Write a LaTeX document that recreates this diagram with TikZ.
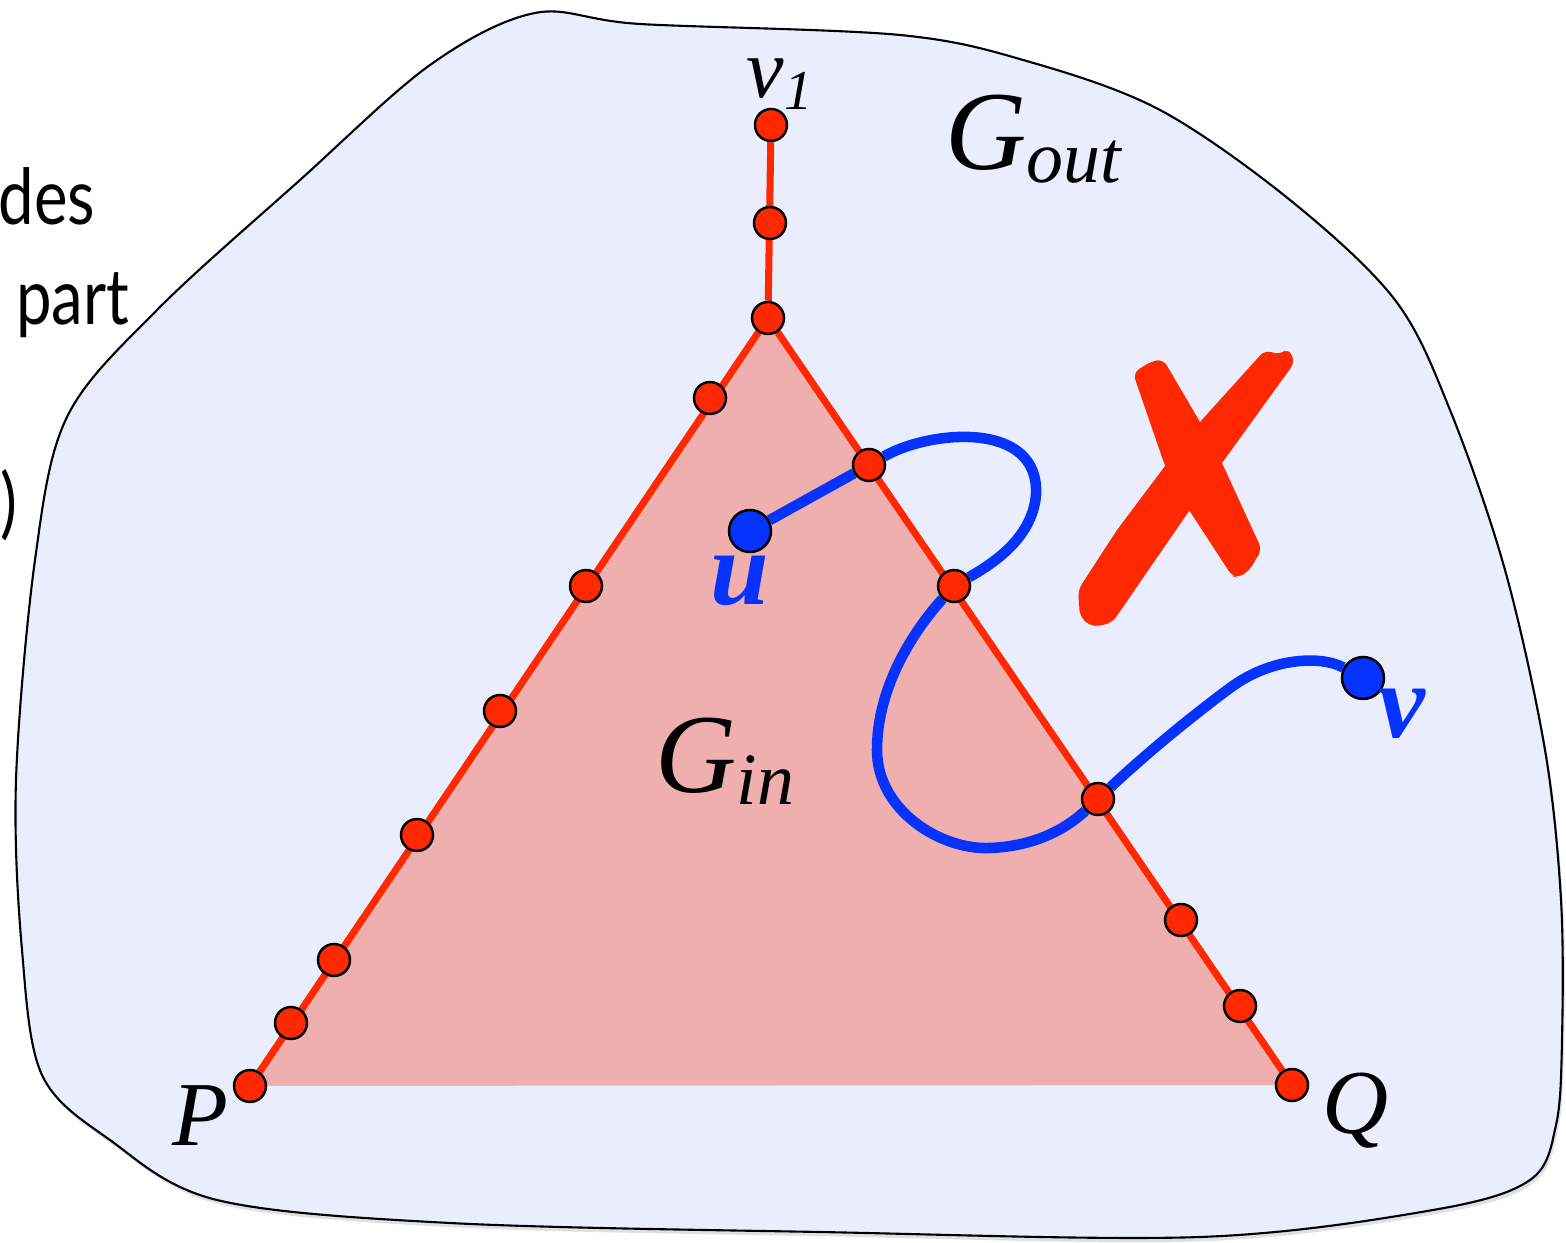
\documentclass[tikz,border=0pt]{standalone}
\usepackage{fontspec}
\setmainfont{Liberation Serif}
\newfontfamily\slidefont[FakeStretch=0.82]{Lato}
\usepackage{tikz}
\usetikzlibrary{backgrounds, shadows}

\definecolor{blobfill}{RGB}{234,237,253}
\definecolor{vred}{RGB}{255,40,0}
\definecolor{ginfill}{RGB}{240,175,175}
\definecolor{pblue}{RGB}{5,50,255}

\begin{document}
\begin{tikzpicture}[
  x=0.01cm, y=-0.01cm,
  rv/.style={circle, draw, line width=0.7pt, fill=vred, minimum size=3.2mm, inner sep=0pt},
  bv/.style={circle, draw, line width=0.7pt, fill=pblue, minimum size=4.2mm, inner sep=0pt},
  rl/.style={draw=vred, line width=2pt},
  bl/.style={draw=pblue, line width=3pt},
  lb/.style={anchor=base west, inner sep=0pt, font=\fontsize{26}{30}\selectfont\itshape},
  sl/.style={anchor=base east, inner sep=0pt, font=\fontsize{22}{26}\selectfont\slidefont}
]
\useasboundingbox (0,0) rectangle (1566,1243);

% cut-off slide text on the left
\node[sl] (txa) at (96,225) {des};
\node[sl] (txb) at (130,325) {part};
\node[sl] (txc) at (18,530) {)};

% path v1 -- apex
\node[rv] (t1) at (771,125) {};
\node[rv] (t2) at (770,223) {};
\node[rv] (a) at (768,318) {};
% left side
\node[rv] (l1) at (710,398) {};
\node[rv] (l2) at (586,586) {};
\node[rv] (l3) at (500,711) {};
\node[rv] (l4) at (417,835) {};
\node[rv] (l5) at (334,960) {};
\node[rv] (l6) at (291,1023) {};
\node[rv] (p) at (250,1086) {};
% right side
\node[rv] (r1) at (869,465) {};
\node[rv] (r2) at (954,586) {};
\node[rv] (r3) at (1098,799) {};
\node[rv] (r4) at (1181,920) {};
\node[rv] (r5) at (1240,1006) {};
\node[rv] (q) at (1292,1085) {};
% end points
\node[bv] (u) at (750,531) {};
\node[bv] (v) at (1363,678) {};

% labels
\node[lb, font=\fontsize{24}{28}\selectfont\itshape] (v1lab) at (746,98) {v\raisebox{-0.3ex}{\fontsize{16}{18}\selectfont 1}};
\node[lb, font=\fontsize{32}{36}\selectfont\itshape] (goutlab) at (945,170) {G\raisebox{-0.25ex}{\fontsize{21}{24}\selectfont out}};
\node[lb, font=\fontsize{32}{36}\selectfont\itshape] (ginlab) at (655,792) {G\raisebox{-0.25ex}{\fontsize{21}{24}\selectfont in}};
\node[lb, text=pblue, font=\fontsize{30}{34}\selectfont\bfseries\itshape] (ulab) at (710,605) {u};
\node[lb, text=pblue, font=\fontsize{30}{34}\selectfont\bfseries\itshape] (vlab) at (1378,738) {v};
\node[lb] (plab) at (172,1145) {P};
\node[lb] (qlab) at (1322,1133) {Q};

% the cross
\fill[vred, rounded corners=2] (1133,373) -- (1150,362) -- (1163,359) -- (1200,422) -- (1222,463)
  -- (1262,550) -- (1255,560) -- (1250,570) -- (1238,578) -- (1232,576) -- (1187,507) -- (1165,466) -- cycle;
\fill[vred, rounded corners=2] (1295,362) -- (1222,463) -- (1112,623) -- (1092,627) -- (1080,617)
  -- (1078,590) -- (1117,530) -- (1165,466) -- (1200,422) -- (1265,350) -- (1280,355) -- (1288,348) -- cycle;

\begin{scope}[on background layer]
  \path[fill=blobfill, draw=black, line width=0.6pt,
    drop shadow={shadow xshift=0.6pt, shadow yshift=-1.2pt, opacity=0.12, fill=black}]
    plot[smooth cycle, tension=0.55] coordinates {(535,13) (640,24) (900,35) (1030,62) (1160,110)
    (1290,200) (1395,300) (1450,410) (1505,570) (1545,750) (1561,900) (1562,1040) (1556,1125)
    (1530,1180) (1433,1210) (1200,1237) (820,1232) (450,1223) (217,1200) (110,1140) (42,1075)
    (22,950) (16,780) (35,560) (67,417) (157,310) (300,180) (430,65)};
  \fill[ginfill] (a.center) -- (p.center) -- (q.center) -- cycle;
  \draw[rl] (t1) -- (a);
  \draw[rl] (a) -- (p);
  \draw[rl] (a) -- (q);
  \draw[bl] (u) -- (r1) .. controls (930,430) and (1040,420) .. (1036,495)
    .. controls (1032,540) and (990,565) .. (r2)
    .. controls (910,635) and (877,690) .. (877,750)
    .. controls (877,810) and (940,850) .. (990,848)
    .. controls (1040,846) and (1070,825) .. (r3)
    .. controls (1150,750) and (1200,710) .. (1230,688)
    .. controls (1270,658) and (1320,655) .. (v);
\end{scope}
\end{tikzpicture}
\end{document}
